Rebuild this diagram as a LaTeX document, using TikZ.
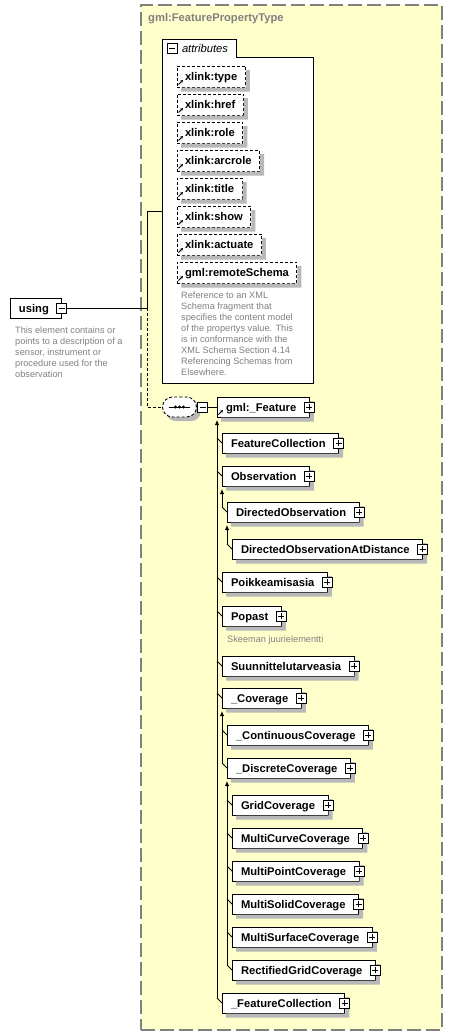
\documentclass[tikz,border=0pt]{standalone}
\usepackage{fontspec}
\setmainfont{Liberation Sans}
\usepackage{tikz}
\usetikzlibrary{
  positioning, arrows.meta, shapes.misc, calc
}
\definecolor{typeFill}{HTML}{FFFFCC}
\definecolor{typeEdge}{HTML}{808080}
\definecolor{noteInk}{HTML}{808080}
\definecolor{shadeGray}{HTML}{B8B8B8}
\tikzset{
  elem/.style={rectangle, draw=black, fill=white, line width=0.9pt,
    anchor=north west, minimum height=20pt, inner xsep=9pt, inner ysep=0pt,
    outer sep=0pt, text height=8pt, text depth=0pt,
    font=\fontsize{11.2}{13}\selectfont\bfseries,
    execute at end node={\hspace*{4pt}}},
  attrib/.style={rectangle, draw=black, fill=white, line width=0.9pt,
    dash pattern=on 3pt off 2pt, anchor=north west, minimum height=21pt,
    inner xsep=8pt, inner ysep=0pt, outer sep=0pt,
    text height=8pt, text depth=0pt,
    font=\fontsize{11.2}{13}\selectfont\bfseries},
  expand/.style={rectangle, draw=black, fill=white, line width=0.8pt,
    minimum size=10pt, inner sep=0pt, outer sep=0pt,
    path picture={
      \draw[black, line width=0.8pt]
        ([xshift=2pt]path picture bounding box.west) --
        ([xshift=-2pt]path picture bounding box.east)
        ([yshift=-2pt]path picture bounding box.north) --
        ([yshift=2pt]path picture bounding box.south);}},
  collapse/.style={rectangle, draw=black, fill=white, line width=0.8pt,
    minimum size=10pt, inner sep=0pt, outer sep=0pt,
    path picture={
      \draw[black, line width=0.8pt]
        ([xshift=2pt]path picture bounding box.west) --
        ([xshift=-2pt]path picture bounding box.east);}},
  seqbox/.style={rounded rectangle, draw=black, fill=white, line width=0.9pt,
    dash pattern=on 3pt off 2pt, minimum width=34pt, minimum height=20pt,
    inner sep=0pt, outer sep=0pt},
  boxshade/.style={fill=shadeGray, draw=none},
  note/.style={anchor=north west, inner sep=0pt, align=left, text=noteInk,
    font=\fontsize{9.2}{10.9}\selectfont},
  link/.style={draw=black, line width=0.9pt},
  dashlink/.style={link, dash pattern=on 3pt off 2pt},
  tree/.style={draw=black, line width=0.9pt},
  treeup/.style={tree, -{Latex[length=5pt,width=4.5pt]}, shorten >=3pt},
  refmark/.style={-{Stealth[length=3pt,width=3.2pt]}, line width=0.9pt},
}

\begin{document}
\begin{tikzpicture}[x=1pt, y=-1pt]
    \useasboundingbox (0,0) rectangle (453,1036);
    % complex type frame
    \node[rectangle, draw=typeEdge, fill=typeFill, line width=1.3pt,
      dash pattern=on 14pt off 5pt, anchor=north west, outer sep=0pt,
      minimum width=301pt, minimum height=1025pt] (ftype) at (141,5) {};
    \node[anchor=west, inner sep=0pt, text=typeEdge,
      font=\fontsize{11.2}{13}\selectfont\bfseries]
      (ftype-title) at (148,19) {gml:FeaturePropertyType};

    % attribute group
    \node[rectangle, fill=white, anchor=north west, outer sep=0pt,
      minimum width=151pt, minimum height=326pt] (attrs) at (162,57) {};
    \node[rectangle, fill=white, anchor=south west, minimum height=18pt,
      inner xsep=8pt, inner ysep=0pt, outer sep=0pt,
      font=\fontsize{11.2}{13}\selectfont\itshape,
      execute at begin node={\hspace*{12pt}}]
      (attrs-tab) at (attrs.north west) {attributes};
    \draw[link] (attrs-tab.north west) -- (attrs-tab.north east)
      -- (attrs-tab.south east) -- (attrs.north east) -- (attrs.south east)
      -- (attrs.south west) -- cycle;
    \node[collapse] (attrs-m) at ([xshift=10pt]attrs-tab.west) {};

    \node[attrib] (a1) at (177,66) {xlink:type};
    \node[attrib, below=7pt of a1.south west, anchor=north west] (a2) {xlink:href};
    \node[attrib, below=7pt of a2.south west, anchor=north west] (a3) {xlink:role};
    \node[attrib, below=7pt of a3.south west, anchor=north west] (a4) {xlink:arcrole};
    \node[attrib, below=7pt of a4.south west, anchor=north west] (a5) {xlink:title};
    \node[attrib, below=7pt of a5.south west, anchor=north west] (a6) {xlink:show};
    \node[attrib, below=7pt of a6.south west, anchor=north west] (a7) {xlink:actuate};
    \node[attrib, below=7pt of a7.south west, anchor=north west] (a8) {gml:remoteSchema};
    \node[note, below right=9pt and 4pt of a8.south west] (a8-note)
      {Reference to an XML\\Schema fragment that\\specifies the content model\\
       of the propertys value. This\\is in conformance with the\\
       XML Schema Section 4.14\\Referencing Schemas from\\Elsewhere.};

    % element using
    \node[elem] (using) at (10,298) {using};
    \node[collapse] (using-m) at (using.east) {};
    \node[note, below right=9pt and 5pt of using.south west] (using-note)
      {This element contains or\\points to a description of a\\
       sensor, instrument or\\procedure used for the\\observation};

    % sequence and its choice of features
    \coordinate (seq-c) at (179.5,407);
    \fill[boxshade, rounded corners=9pt] ([xshift=-13pt,yshift=-14pt]seq-c)
      rectangle ([xshift=21pt,yshift=6pt]seq-c);
    \node[seqbox] (seq) at (seq-c) {};
    \node[collapse] (seq-m) at ([xshift=6pt]seq.east) {};
    \node[elem] (feat) at (217,397) {gml:\_Feature};
    \node[elem, below right=16pt and 5pt of feat.south west] (fcoll) {FeatureCollection};
    \node[elem, below=13pt of fcoll.south west, anchor=north west] (obs) {Observation};
    \node[elem, below right=16pt and 5pt of obs.south west] (dobs) {DirectedObservation};
    \node[elem, below right=17pt and 5pt of dobs.south west] (doad) {DirectedObservationAtDistance};
    \node[elem, below left=13pt and 10pt of doad.south west, anchor=north west] (poik) {Poikkeamisasia};
    \node[elem, below=14pt of poik.south west, anchor=north west] (popast) {Popast};
    \node[note, below right=10pt and 5pt of popast.south west] (popast-note)
      {Skeeman juurielementti};
    \node[elem, below=30pt of popast.south west, anchor=north west] (suun) {Suunnittelutarveasia};
    \node[elem, below=12pt of suun.south west, anchor=north west] (cov) {\_Coverage};
    \node[elem, below right=17pt and 5pt of cov.south west] (ccov) {\_ContinuousCoverage};
    \node[elem, below=13pt of ccov.south west, anchor=north west] (dcov) {\_DiscreteCoverage};
    \node[elem, below right=17pt and 5pt of dcov.south west] (grid) {GridCoverage};
    \node[elem, below=13pt of grid.south west, anchor=north west] (mcurve) {MultiCurveCoverage};
    \node[elem, below=13pt of mcurve.south west, anchor=north west] (mpoint) {MultiPointCoverage};
    \node[elem, below=13pt of mpoint.south west, anchor=north west] (msolid) {MultiSolidCoverage};
    \node[elem, below=13pt of msolid.south west, anchor=north west] (msurf) {MultiSurfaceCoverage};
    \node[elem, below=13pt of msurf.south west, anchor=north west] (rgrid) {RectifiedGridCoverage};
    \node[elem, below left=13pt and 10pt of rgrid.south west, anchor=north west] (fcoll2) {\_FeatureCollection};

    % shadows: right and bottom strips
    \foreach \n in {a1,a2,a3,a4,a5,a6,a7,a8,feat,fcoll,obs,dobs,doad,poik,
        popast,suun,cov,ccov,dcov,grid,mcurve,mpoint,msolid,msurf,rgrid,fcoll2}
      \fill[boxshade] ($(\n.north east)+(0.5pt,-4pt)$) -- ($(\n.north east)+(4.5pt,-4pt)$)
        -- ($(\n.south east)+(4.5pt,-4.5pt)$) -- ($(\n.south west)+(4pt,-4.5pt)$)
        -- ($(\n.south west)+(4pt,-0.5pt)$) -- ($(\n.south east)+(0.5pt,-0.5pt)$)
        -- cycle;

    \foreach \n in {feat,fcoll,obs,dobs,doad,poik,popast,suun,cov,ccov,dcov,
        grid,mcurve,mpoint,msolid,msurf,rgrid,fcoll2}
      \node[expand] (\n-p) at (\n.east) {};

    % sequence mark
    \draw[line width=1pt] ([xshift=6pt]seq.west) -- ([xshift=-7pt]seq.east);
    \foreach \d in {-4,0,4}
      \fill[black] ([xshift=\d pt]seq.center) circle (1.6pt);

    % reference marks
    \foreach \n in {a1,a2,a3,a4,a5,a6,a7,a8,feat}
      \draw[refmark] ([xshift=1.5pt,yshift=2.5pt]\n.south west) -- ++(4.5pt,4.5pt);

    % connectors
    \coordinate (fork) at ([xshift=6pt]ftype.west |- using.east);
    \coordinate (attrs-in) at ($(attrs-tab.north west)!0.5!(attrs.south west)$);
    \draw[link] (using-m.east) -- (fork);
    \draw[link] (fork) |- (attrs-in);
    \draw[dashlink] (fork) |- (seq.west);
    \draw[link] (seq-m.east) -- (feat.west);

    % substitution tree
    \draw[treeup] ([xshift=-5pt,yshift=5pt]fcoll2.west) -- (feat.south west);
    \draw[treeup] ([xshift=-5pt,yshift=5pt]dobs.west) -- (obs.south west);
    \draw[treeup] ([xshift=-5pt,yshift=5pt]doad.west) -- (dobs.south west);
    \draw[treeup] ([xshift=-5pt,yshift=5pt]dcov.west) -- (cov.south west);
    \draw[treeup] ([xshift=-5pt,yshift=5pt]rgrid.west) -- (dcov.south west);
    \foreach \n in {fcoll,obs,dobs,doad,poik,popast,suun,cov,ccov,dcov,
        grid,mcurve,mpoint,msolid,msurf,rgrid,fcoll2}
      \draw[tree] (\n.west) -- ++(-5pt,5pt);
  \end{tikzpicture}
\end{document}
